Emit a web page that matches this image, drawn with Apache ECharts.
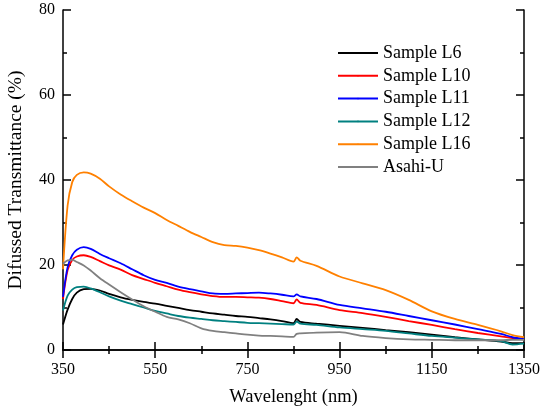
<!DOCTYPE html>
<html><head><meta charset="utf-8">
<script src="https://cdn.jsdelivr.net/npm/echarts@6/dist/echarts.min.js"></script>
<style>html,body{margin:0;padding:0;background:#fff}#c{width:540px;height:411px}</style>
</head><body><div id="c"></div>
<script>
const wavelengths = [350,360,370,380,395,410,430,450,475,500,525,550,575,600,625,650,675,700,725,750,775,800,825,850,857,865,900,950,1000,1050,1100,1150,1200,1250,1300,1325,1350];
const seriesNames = ['Sample L6','Sample L10','Sample L11','Sample L12','Sample L16','Asahi-U'];
const sampleL6  = [6.0,9.5,12.0,13.5,14.3,14.4,14.0,13.2,12.4,11.8,11.3,10.9,10.4,9.9,9.4,9.0,8.6,8.3,8.0,7.8,7.5,7.2,6.8,6.3,7.3,6.6,6.2,5.7,5.2,4.7,4.2,3.6,3.0,2.5,2.0,1.6,1.6];
const sampleL10 = [12.0,18.8,21.2,22.0,22.3,21.9,20.9,19.9,18.9,17.6,16.7,15.8,15.0,14.2,13.6,13.1,12.7,12.5,12.5,12.4,12.3,12.0,11.5,11.0,11.9,11.1,10.6,9.4,8.7,7.8,6.8,5.9,4.9,4.0,3.2,2.8,2.5];
const sampleL11 = [12.5,19.5,22.3,23.6,24.2,23.8,22.6,21.6,20.4,19.0,17.6,16.5,15.8,14.9,14.3,13.8,13.3,13.2,13.3,13.4,13.5,13.3,13.0,12.6,13.1,12.6,12.0,10.6,9.8,9.0,8.0,7.0,6.0,4.9,3.8,3.0,2.6];
const sampleL12 = [9.3,12.8,14.2,14.8,14.9,14.5,13.6,12.6,11.6,10.8,10.0,9.2,8.6,8.0,7.6,7.3,7.0,6.8,6.6,6.4,6.3,6.2,6.1,6.0,6.7,6.2,5.9,5.3,4.9,4.5,3.9,3.3,2.9,2.5,2.1,1.3,1.5];
const sampleL16 = [19.0,34.0,39.5,41.2,41.8,41.5,40.3,38.5,36.6,35.0,33.5,32.2,30.6,29.2,27.8,26.6,25.4,24.7,24.5,24.1,23.5,22.7,21.8,20.8,21.8,21.0,19.8,17.3,15.7,14.1,11.8,9.1,7.3,5.9,4.4,3.5,3.0];
const asahiU    = [20.3,21.1,21.2,20.7,19.9,18.7,16.9,15.4,13.6,11.9,10.3,9.0,7.8,7.2,6.3,5.1,4.5,4.2,3.9,3.6,3.4,3.3,3.2,3.1,3.8,3.9,4.1,4.2,3.3,2.8,2.5,2.4,2.3,2.3,2.3,2.4,2.4];
const colors = ['#000000','#ff0000','#0000ff','#008080','#ff8000','#808080'];
const allValues = [sampleL6, sampleL10, sampleL11, sampleL12, sampleL16, asahiU];

const FONT = '"Liberation Serif","Times New Roman",serif';
const chart = echarts.init(document.getElementById('c'), null, {renderer:'canvas'});
const axisLine = {show:true, lineStyle:{color:'#000', width:1.5}};
const tick = {show:true, inside:true, length:8, lineStyle:{color:'#000', width:1.5}};
const minor = {show:true, splitNumber:2, length:4, lineStyle:{color:'#000', width:1.5}};
const option = {
  animation:false,
  grid:{left:63, right:16, top:10, bottom:61, containLabel:false, outerBoundsMode:'none'},
  legend:{
    orient:'vertical', left:337, top:44, padding:0, itemWidth:40, itemHeight:2, itemGap:4.8,
    data:seriesNames,
    textStyle:{fontFamily:FONT, fontSize:18, color:'#000'}
  },
  xAxis:[{
    type:'value', min:350, max:1350, interval:200,
    axisLine, axisTick:tick, minorTick:minor, splitLine:{show:false},
    axisLabel:{fontFamily:FONT, fontSize:16, color:'#000', margin:12, formatter:v=>String(v)},
    name:'Wavelenght (nm)', nameLocation:'middle', nameGap:38,
    nameTextStyle:{fontFamily:FONT, fontSize:18.5, color:'#000'}
  },{
    type:'value', position:'top', min:350, max:1350, interval:200,
    axisLine, axisTick:tick, minorTick:minor, splitLine:{show:false}, axisLabel:{show:false}
  }],
  yAxis:[{
    type:'value', min:0, max:80, interval:20,
    axisLine, axisTick:tick, minorTick:minor, splitLine:{show:false},
    axisLabel:{fontFamily:FONT, fontSize:16, color:'#000', margin:8},
    name:'Difussed Transmittance (%)', nameLocation:'middle', nameGap:37,
    nameTextStyle:{fontFamily:FONT, fontSize:19.5, color:'#000'}
  },{
    type:'value', position:'right', min:0, max:80, interval:20,
    axisLine, axisTick:tick, minorTick:minor, splitLine:{show:false}, axisLabel:{show:false}
  }],
  series: seriesNames.map((n,i)=>({
    name:n, type:'line', xAxisIndex:0, yAxisIndex:0,
    symbol:'none', smooth:0.3,
    lineStyle:{color:colors[i], width:1.8}, itemStyle:{color:colors[i]},
    data: wavelengths.map((w,j)=>[w, allValues[i][j]])
  }))
};
chart.setOption(option);
</script></body></html>
